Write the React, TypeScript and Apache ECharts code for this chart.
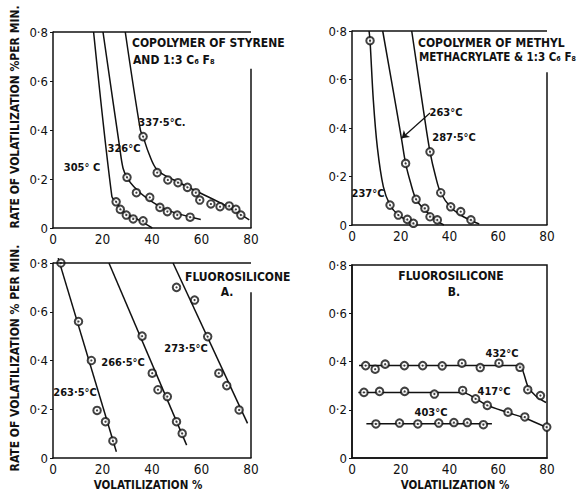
import React, { useEffect, useRef } from "react";
import * as echarts from "echarts";

// ---------- data (x: volatilization %, y: rate %/min) ----------
const xTicks = [0, 20, 40, 60, 80];
const yTicks = [0, 0.2, 0.4, 0.6, 0.8];

// Panel 1: copolymer of styrene and 1:3 C6F8
const sty305Curve = [[16.4, 0.8], [23.8, 0.128], [25.5, 0.107], [27.2, 0.08], [29.9, 0.056], [35.3, 0.029], [40.1, 0]];
const sty305Pts = [[25.5, 0.107], [27.2, 0.076], [29.6, 0.053], [32.4, 0.037], [36.4, 0.029]];
const sty326Curve = [[20.2, 0.8], [26.9, 0.332], [28.3, 0.244], [29.9, 0.207], [32.6, 0.169], [38.0, 0.121], [46.2, 0.073], [59.7, 0.035]];
const sty326Pts = [[29.9, 0.207], [33.7, 0.144], [39.1, 0.125], [43.2, 0.084], [46.2, 0.067], [50.2, 0.053], [55.4, 0.044]];
const sty337Curve = [[29.2, 0.8], [35.3, 0.4], [36.4, 0.373], [38.7, 0.305], [42.1, 0.237], [48.9, 0.196], [59.7, 0.142], [70.5, 0.087], [79.3, 0.033]];
const sty337Pts = [[36.4, 0.373], [42.1, 0.226], [46.4, 0.196], [50.5, 0.185], [54.3, 0.166], [57.7, 0.144], [59.3, 0.114], [63.8, 0.098], [67.5, 0.087], [71.2, 0.09], [73.9, 0.076], [75.9, 0.053]];

// Panel 2: copolymer of methyl methacrylate & 1:3 C6F8
const mma237Curve = [[7.0, 0.8], [7.4, 0.76], [8.75, 0.515], [10.4, 0.32], [12.85, 0.158], [15.6, 0.082], [19.0, 0.041], [22.7, 0.018], [26.0, 0]];
const mma237Pts = [[7.4, 0.76], [15.6, 0.082], [19.0, 0.041], [22.7, 0.023], [25.2, 0.007]];
const mma263Curve = [[12.6, 0.8], [18.3, 0.474], [20.4, 0.35], [22.0, 0.254], [24.1, 0.172], [26.3, 0.106], [29.9, 0.062], [34.7, 0.018], [37.7, 0]];
const mma263Pts = [[22.0, 0.254], [26.3, 0.106], [29.9, 0.069], [32.0, 0.034], [35.0, 0.021]];
const mma287Curve = [[24.5, 0.8], [29.3, 0.474], [32.0, 0.302], [34.3, 0.2], [36.4, 0.133], [40.5, 0.073], [45.7, 0.034], [52.2, 0.004]];
const mma287Pts = [[32.0, 0.302], [36.4, 0.133], [40.5, 0.075], [44.6, 0.055], [48.8, 0.021]];

// Panel 3: fluorosilicone A
const fa263Curve = [[2.1, 0.82], [25.6, 0.026]];
const fa263Pts = [[3.2, 0.8], [10.3, 0.56], [15.5, 0.4], [17.8, 0.195], [21.2, 0.149], [24.2, 0.07]];
const fa266Curve = [[22.6, 0.8], [54.0, 0.053]];
const fa266Pts = [[36.0, 0.5], [40.1, 0.348], [42.4, 0.28], [46.2, 0.252], [49.9, 0.149], [52.2, 0.101]];
const fa273Curve = [[48.5, 0.8], [78.6, 0.142]];
const fa273Pts = [[49.9, 0.7], [57.2, 0.648], [62.5, 0.498], [67.0, 0.348], [70.2, 0.297], [75.2, 0.197]];

// Panel 4: fluorosilicone B
const fb432Curve = [[2.9, 0.383], [68.9, 0.383], [70.4, 0.352], [72.2, 0.296], [75.6, 0.255], [79.6, 0.23]];
const fb432Pts = [[5.6, 0.383], [9.5, 0.368], [13.6, 0.389], [21.5, 0.383], [29.0, 0.383], [37.0, 0.382], [45.1, 0.393], [52.6, 0.375], [60.3, 0.393], [68.9, 0.376], [72.1, 0.283], [77.3, 0.259]];
const fb417Curve = [[2.6, 0.272], [45.4, 0.272], [48.2, 0.262], [55.1, 0.22], [63.4, 0.19], [71.6, 0.163], [80.0, 0.126]];
const fb417Pts = [[4.9, 0.272], [11.3, 0.276], [21.6, 0.276], [33.8, 0.265], [45.4, 0.28], [50.7, 0.245], [55.5, 0.218], [64.0, 0.19], [70.9, 0.17], [79.9, 0.128]];
const fb403Curve = [[5.9, 0.142], [57.4, 0.142]];
const fb403Pts = [[9.8, 0.141], [19.5, 0.145], [27.0, 0.141], [35.6, 0.145], [41.8, 0.147], [47.3, 0.147], [53.9, 0.138]];

// frame: y value where the right-hand border starts (below the titles)
const rightEdgeStart = [0.65, 0.63, 0.68];
// pointer arrow in panel 2 (from the 263 °C label to its curve)
const arrow263 = [[32.0, 0.462], [20.4, 0.358]];

const FONT = "'DejaVu Sans Condensed', 'DejaVu Sans', sans-serif";
const INK = "#111";

function fmtY(v: number) {
  return v === 0 ? "0" : v.toFixed(1).replace(".", "\u00b7");
}

function curve(i: number, data: number[][], smooth: number | boolean = 0.35, extra: any = {}) {
  return {
    type: "line",
    xAxisIndex: i,
    yAxisIndex: i,
    data,
    smooth,
    showSymbol: false,
    clip: false,
    lineStyle: { color: INK, width: 1.5 },
    z: 2,
    ...extra,
  };
}

function points(i: number, data: number[][]) {
  return [
    {
      type: "scatter",
      xAxisIndex: i,
      yAxisIndex: i,
      data,
      symbol: "emptyCircle",
      symbolSize: 7.5,
      clip: false,
      itemStyle: { color: INK, borderColor: INK, borderWidth: 1.3 },
      z: 3,
    },
    {
      type: "scatter",
      xAxisIndex: i,
      yAxisIndex: i,
      data,
      symbol: "circle",
      symbolSize: 2.2,
      clip: false,
      itemStyle: { color: INK },
      z: 4,
    },
  ];
}

function frameMarks(i: number) {
  return {
    silent: true,
    symbol: "none",
    label: { show: false },
    lineStyle: { color: INK, width: 1.5, type: "solid" },
    data: [
      [{ coord: [0, 0.8] }, { coord: [80, 0.8] }],
      [{ coord: [80, rightEdgeStart[i]] }, { coord: [80, 0] }],
    ],
  };
}

const grids = [
  { left: 53, top: 32, width: 198, height: 196 },
  { left: 352, top: 31, width: 195, height: 194 },
  { left: 53, top: 263, width: 198, height: 195 },
  { left: 352, top: 265, width: 195, height: 193 },
];

function label(x: number, y: number, text: string, size = 11, align = "center") {
  return {
    type: "text",
    x,
    y,
    z: 10,
    style: {
      text,
      fill: INK,
      font: `bold ${size}px ${FONT}`,
      textAlign: align,
      textVerticalAlign: "middle",
    },
  };
}

export default function App() {
  const ref = useRef<HTMLDivElement>(null);

  useEffect(() => {
    if (!ref.current) return;
    const chart = echarts.init(ref.current, undefined, { renderer: "svg" });

    const xAxes = grids.map((_, i) => ({
      type: "value",
      gridIndex: i,
      min: 0,
      max: 80,
      interval: 20,
      axisLine: { show: true, onZero: false, lineStyle: { color: INK, width: 1.5 } },
      axisTick: { show: false },
      splitLine: { show: false },
      axisLabel: {
        color: INK,
        fontSize: 13.5,
        fontFamily: FONT,
        margin: 4,
        formatter: (v: number) => (xTicks.includes(v) ? String(v) : ""),
      },
    }));
    const yAxes = grids.map((_, i) => ({
      type: "value",
      gridIndex: i,
      min: 0,
      max: 0.8,
      interval: 0.2,
      axisLine: { show: true, onZero: false, lineStyle: { color: INK, width: 1.5 } },
      axisTick: { show: true, length: 3, lineStyle: { color: INK } },
      splitLine: { show: false },
      axisLabel: {
        color: INK,
        fontSize: 13,
        fontFamily: FONT,
        margin: 5,
        formatter: (v: number) => (yTicks.some((t) => Math.abs(t - v) < 1e-9) ? fmtY(v) : ""),
      },
    }));

    const series: any[] = [
      // panel 1
      curve(0, sty305Curve, 0.3, { markLine: frameMarks(0) }),
      ...points(0, sty305Pts),
      curve(0, sty326Curve),
      ...points(0, sty326Pts),
      curve(0, sty337Curve),
      ...points(0, sty337Pts),
      // panel 2
      curve(1, mma237Curve, 0.35, { markLine: frameMarks(1) }),
      ...points(1, mma237Pts),
      curve(1, mma263Curve, 0.35, {
        markLine: {
          silent: true,
          symbol: ["none", "arrow"],
          symbolSize: 7,
          label: { show: false },
          lineStyle: { color: INK, width: 1.2, type: "solid" },
          data: [[{ coord: arrow263[0] }, { coord: arrow263[1] }]],
        },
      }),
      ...points(1, mma263Pts),
      curve(1, mma287Curve),
      ...points(1, mma287Pts),
      // panel 3
      curve(2, fa263Curve, false, { markLine: frameMarks(2) }),
      ...points(2, fa263Pts),
      curve(2, fa266Curve, false),
      ...points(2, fa266Pts),
      curve(2, fa273Curve, false),
      ...points(2, fa273Pts),
      // panel 4
      curve(3, fb432Curve, 0.25),
      ...points(3, fb432Pts),
      curve(3, fb417Curve, 0.25),
      ...points(3, fb417Pts),
      curve(3, fb403Curve, false),
      ...points(3, fb403Pts),
    ];

    const graphic: any[] = [
      // axis titles
      {
        type: "text",
        x: 15,
        y: 117,
        rotation: Math.PI / 2,
        style: {
          text: "RATE OF VOLATILIZATION %PER MIN.",
          fill: INK,
          font: `bold 12px ${FONT}`,
          textAlign: "center",
          textVerticalAlign: "middle",
        },
      },
      {
        type: "text",
        x: 15,
        y: 358,
        rotation: Math.PI / 2,
        style: {
          text: "RATE OF VOLATILIZATION % PER MIN.",
          fill: INK,
          font: `bold 12px ${FONT}`,
          textAlign: "center",
          textVerticalAlign: "middle",
        },
      },
      label(148, 484.5, "VOLATILIZATION %", 11.5),
      label(455, 484.5, "VOLATILIZATION %", 11.5),
      // titles
      label(132, 43, "COPOLYMER OF STYRENE", 12, "left"),
      label(133, 60, "AND 1:3 C\u2086 F\u2088", 12, "left"),
      label(418, 43, "COPOLYMER OF METHYL", 12, "left"),
      label(419, 57, "METHACRYLATE & 1:3 C\u2086 F\u2088", 11.5, "left"),
      label(185, 277, "FLUOROSILICONE", 12, "left"),
      label(227, 292, "A.", 12),
      label(451, 276, "FLUOROSILICONE", 12),
      label(454, 292, "B.", 12),
      // curve labels
      label(82, 167, "305\u00b0 C"),
      label(124, 148, "326\u00b0C"),
      label(162, 122, "337\u00b75\u00b0C."),
      label(446, 112, "263\u00b0C"),
      label(454, 137, "287\u00b75\u00b0C"),
      label(368, 193, "237\u00b0C"),
      label(75, 392, "263\u00b75\u00b0C"),
      label(123, 362, "266\u00b75\u00b0C"),
      label(186, 348, "273\u00b75\u00b0C"),
      label(502, 353, "432\u00b0C"),
      label(494, 391, "417\u00b0C"),
      label(431, 412, "403\u00b0C"),
    ];

    chart.setOption({
      animation: false,
      backgroundColor: "#fff",
      grid: grids.map((g, i) => ({
        ...g,
        show: i === 3,
        borderColor: INK,
        borderWidth: 1.5,
        backgroundColor: "transparent",
      })),
      xAxis: xAxes,
      yAxis: yAxes,
      series,
      graphic,
    });

    return () => chart.dispose();
  }, []);

  return (
    <div
      ref={ref}
      style={{ position: "absolute", left: 0, top: 0, width: 587, height: 491, background: "#fff" }}
    />
  );
}
